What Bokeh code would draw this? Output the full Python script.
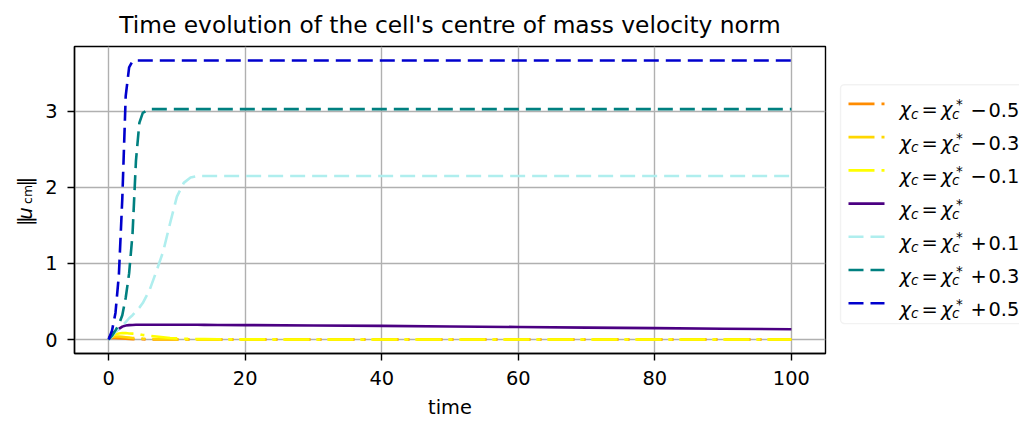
import math
from bokeh.plotting import figure
from bokeh.layouts import row
from bokeh.models import Range1d, FixedTicker, BoxAnnotation
from bokeh.core.properties import value
from bokeh.embed import file_html
from bokeh.resources import INLINE

# ---------------- data ----------------
time = [0, 0.5, 1, 1.5, 2, 2.5, 3, 3.5, 4, 4.5, 5, 6, 7, 8, 9, 10, 11, 12, 13, 14,
        16, 20, 30, 40, 50, 60, 70, 80, 90, 100]

u_minus_05 = [0.02, 0.025, 0.022, 0.018, 0.014, 0.011, 0.008, 0.006, 0.005, 0.004,
              0.003, 0.002, 0.001, 0, 0, 0, 0, 0, 0, 0,
              0, 0, 0, 0, 0, 0, 0, 0, 0, 0]
u_minus_03 = [0.02, 0.035, 0.04, 0.04, 0.035, 0.03, 0.025, 0.02, 0.018, 0.015,
              0.012, 0.009, 0.006, 0.004, 0.003, 0.002, 0.001, 0.001, 0, 0,
              0, 0, 0, 0, 0, 0, 0, 0, 0, 0]
u_minus_01 = [0.02, 0.05, 0.07, 0.08, 0.085, 0.085, 0.08, 0.078, 0.075, 0.07,
              0.06, 0.05, 0.04, 0.03, 0.02, 0.015, 0.01, 0.008, 0.006, 0.005,
              0.003, 0.002, 0.001, 0, 0, 0, 0, 0, 0, 0]
u_critical = [0.02, 0.07, 0.11, 0.14, 0.17, 0.185, 0.19, 0.192, 0.194, 0.195,
              0.195, 0.195, 0.195, 0.195, 0.195, 0.195, 0.195, 0.194, 0.194, 0.193,
              0.192, 0.19, 0.185, 0.18, 0.172, 0.165, 0.157, 0.15, 0.142, 0.135]
u_plus_01 = [0, 0.04, 0.1, 0.14, 0.18, 0.23, 0.28, 0.32, 0.37, 0.42,
             0.48, 0.65, 0.9, 1.16, 1.53, 1.88, 2.06, 2.13, 2.15, 2.15,
             2.15, 2.15, 2.15, 2.15, 2.15, 2.15, 2.15, 2.15, 2.15, 2.15]
u_plus_03 = [0, 0.05, 0.12, 0.2, 0.32, 0.55, 0.87, 1.39, 2.35, 2.85,
             2.98, 3.03, 3.03, 3.03, 3.03, 3.03, 3.03, 3.03, 3.03, 3.03,
             3.03, 3.03, 3.03, 3.03, 3.03, 3.03, 3.03, 3.03, 3.03, 3.03]
u_plus_05 = [0, 0.12, 0.35, 0.85, 1.85, 3.2, 3.58, 3.66, 3.67, 3.67,
             3.67, 3.67, 3.67, 3.67, 3.67, 3.67, 3.67, 3.67, 3.67, 3.67,
             3.67, 3.67, 3.67, 3.67, 3.67, 3.67, 3.67, 3.67, 3.67, 3.67]

series = [u_minus_05, u_minus_03, u_minus_01, u_critical, u_plus_01, u_plus_03, u_plus_05]
signs = ["−", "−", "−", "", "+", "+", "+"]
offsets = ["0.5", "0.3", "0.1", "", "0.1", "0.3", "0.5"]
colors = ["#ff8c00", "#ffd700", "#ffff00", "#4b0082", "#afeeee", "#008080", "#0000cd"]
dashes = ["26 7 4 7", "26 7 4 7", "26 7 4 7", "solid", "15 7", "15 7", "15 7"]

x_ticks = [0, 20, 40, 60, 80, 100]
y_ticks = [0, 1, 2, 3]

FONT = "DejaVu Sans"
FS = "19.4px"
FS_SMALL = "13.6px"
H = 421
TOP, BOTTOM = 45, 68          # frame borders shared by all panels
FRAME_TOP, FRAME_BOTTOM = TOP, H - BOTTOM

# ---------------- main plot ----------------
p = figure(width=788, height=H, output_backend="svg", toolbar_location=None,
           x_range=Range1d(-5, 105), y_range=Range1d(-0.1835, 3.8535),
           min_border_left=30, min_border_right=5, min_border_top=TOP,
           min_border_bottom=BOTTOM,
           title="Time evolution of the cell's centre of mass velocity norm")
p.title.text_font = FONT
p.title.text_font_size = "23.3px"
p.title.text_font_style = "normal"
p.title.align = "center"
p.title.text_color = "black"
p.title.standoff = 17
p.outline_line_color = "black"
p.outline_line_width = 1.4
p.background_fill_color = "white"
p.border_fill_color = "white"

for ax in (p.xaxis[0], p.yaxis[0]):
    ax.axis_line_color = "black"
    ax.axis_line_width = 1.4
    ax.major_tick_line_color = "black"
    ax.major_tick_line_width = 1.4
    ax.major_tick_out = 7
    ax.major_tick_in = 0
    ax.minor_tick_out = 0
    ax.minor_tick_in = 0
    ax.major_label_text_font = FONT
    ax.major_label_text_font_size = FS
    ax.major_label_text_color = "black"
p.xaxis.major_label_standoff = 10
p.yaxis.major_label_standoff = 10

p.xaxis.ticker = FixedTicker(ticks=x_ticks)
p.yaxis.ticker = FixedTicker(ticks=y_ticks)
p.xaxis.axis_label = "time"
p.xaxis.axis_label_text_font = FONT
p.xaxis.axis_label_text_font_size = FS
p.xaxis.axis_label_text_font_style = "normal"
p.xaxis.axis_label_text_color = "black"
p.xaxis.axis_label_standoff = 8

p.grid.grid_line_color = "#b0b0b0"
p.grid.grid_line_width = 1.4

for ys, c, d in zip(series, colors, dashes):
    p.line(time, ys, line_color=c, line_width=2.6, line_dash=d, line_join="round")

# ---------------- y-axis label panel (pixel coordinates) ----------------
yl = figure(width=42, height=H, output_backend="svg", toolbar_location=None,
            x_range=Range1d(0, 42), y_range=Range1d(FRAME_BOTTOM, FRAME_TOP),
            x_axis_type=None, y_axis_type=None, min_border_left=0,
            min_border_right=0, min_border_top=TOP, min_border_bottom=BOTTOM)
yl.outline_line_color = None
yl.background_fill_color = "white"
yl.border_fill_color = "white"
ang = math.pi / 2
yl.text(x=[25, 25], y=[225, 185.5], text=["‖", "‖"], angle=ang,
        text_font=value(FONT), text_font_size=FS, text_color="black",
        text_align="left", text_baseline="alphabetic")
yl.text(x=[25], y=[218.5], text=["u"], angle=ang, text_font=value(FONT),
        text_font_style="italic", text_font_size=FS, text_color="black",
        text_align="left", text_baseline="alphabetic")
yl.text(x=[27], y=[203], text=["cm"], angle=ang, text_font=value(FONT),
        text_font_size="12.5px", text_color="black",
        text_align="left", text_baseline="alphabetic")

# ---------------- legend panel (pixel coordinates) ----------------
LW = 189
q = figure(width=LW, height=H, output_backend="svg", toolbar_location=None,
           x_range=Range1d(0, LW), y_range=Range1d(FRAME_BOTTOM, FRAME_TOP),
           x_axis_type=None, y_axis_type=None, min_border_left=0,
           min_border_right=0, min_border_top=TOP, min_border_bottom=BOTTOM)
q.outline_line_color = None
q.background_fill_color = "white"
q.border_fill_color = "white"
q.add_layout(BoxAnnotation(left=10, right=LW + 20, top=83.3, bottom=323,
                           fill_color="white", fill_alpha=1.0, level="underlay",
                           line_color="#d5d5d5", line_width=1.4, border_radius=4))

row_y = [102.6 + 33.33 * i for i in range(len(series))]
for yc, c, d in zip(row_y, colors, dashes):
    q.line([18, 54], [yc, yc], line_color=c, line_width=2.6, line_dash=d)

base = [y + 6 for y in row_y]
sub = [y + 10 for y in row_y]
sup = [y + 0.5 for y in row_y]
n = len(row_y)
common = dict(text_font=value(FONT), text_color="black", text_align="left",
              text_baseline="alphabetic")
q.text(x=[69] * n, y=base, text=["χ"] * n, text_font_size=FS,
       text_font_style="italic", **common)
q.text(x=[80.5] * n, y=sub, text=["c"] * n, text_font_size=FS_SMALL,
       text_font_style="italic", **common)
q.text(x=[91] * n, y=base, text=["="] * n, text_font_size=FS, **common)
q.text(x=[110.5] * n, y=base, text=["χ"] * n, text_font_size=FS,
       text_font_style="italic", **common)
q.text(x=[121.5] * n, y=sub, text=["c"] * n, text_font_size=FS_SMALL,
       text_font_style="italic", **common)
q.text(x=[125.5] * n, y=sup, text=["*"] * n, text_font_size=FS_SMALL, **common)
q.text(x=[140] * n, y=base, text=signs, text_font_size=FS, **common)
q.text(x=[158] * n, y=base, text=offsets, text_font_size=FS, **common)

layout = row(yl, p, q)
open("out.html", "w").write(file_html(layout, INLINE))
